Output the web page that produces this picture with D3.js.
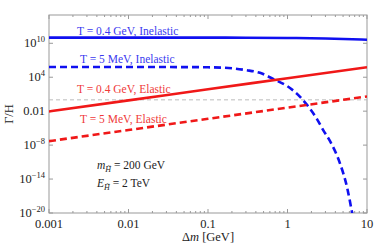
<!DOCTYPE html>
<html>
<head>
<meta charset="utf-8">
<script src="https://cdn.jsdelivr.net/npm/d3@7"></script>
<style>
  body { margin: 0; background: #fff; }
  svg { display: block; font-family: "Liberation Serif", "DejaVu Serif", serif; }
  .frame { fill: none; stroke: #999; stroke-width: 1; }
  .tick line { stroke: #999; }
  .ticklabel { font-size: 12.5px; fill: #222; }
</style>
</head>
<body>
<svg id="chart" width="374" height="247"></svg>
<script>
// values: [Δm in GeV, Γ/H]
const inelastic04 = [[0.001, 1.0e11], [0.01, 1.0e11], [0.1, 1.0e11], [0.3, 9.6e10], [1, 8.8e10], [3, 7e10], [10, 4.2e10]];
const inelastic5 = [[0.001, 6.3e5], [0.01, 6.3e5], [0.05, 6.2e5], [0.1, 5.7e5], [0.2, 3.8e5], [0.3, 1.8e5],
                    [0.45, 6e4], [0.66, 5e3], [1.0, 250], [1.44, 3.5], [1.76, 0.13], [2.35, 4e-4], [2.8, 5e-6],
                    [3.43, 5e-8], [4.57, 6e-12], [5.6, 4e-16], [6.5, 1e-20], [6.7, 1e-21]];
const elastic04 = [[0.001, 8.9e-3], [0.01, 0.8], [0.1, 75], [1, 6.6e3], [10, 6e5]];
const elastic5 = [[0.001, 5e-8], [0.01, 4.7e-6], [0.1, 4.5e-4], [1, 4.2e-2], [10, 4]];
const unity = 1;

const xTicks = [0.001, 0.01, 0.1, 1, 10];
const xTickLabels = ["0.001", "0.01", "0.1", "1", "10"];
const yTicks = [1e-20, 1e-14, 1e-8, 1e-2, 1e4, 1e10];
const yTickLabels = [["10", "\u221220"], ["10", "\u221214"], ["10", "\u22128"], ["0.01", null], ["10", "4"], ["10", "10"]];

const margin = {left: 49, right: 7, top: 15, bottom: 34};
const W = 374, H = 247;
const svg = d3.select("#chart");

const x = d3.scaleLog().domain([0.001, 10]).range([margin.left, W - margin.right]);
const y = d3.scaleLog().domain([1e-20, 1e15]).range([H - margin.bottom, margin.top]);

svg.append("clipPath").attr("id", "clip")
  .append("rect")
    .attr("x", x.range()[0]).attr("y", y.range()[1])
    .attr("width", x.range()[1] - x.range()[0])
    .attr("height", y.range()[0] - y.range()[1]);

// minor ticks on x (2..9 of each decade)
let xMinor = [];
for (let d = 0.001; d < 10; d *= 10)
  for (let k = 2; k <= 9; k++) xMinor.push(d * k);

const ticks = svg.append("g").attr("class", "tick");
const yb = y.range()[0], yt = y.range()[1], xl = x.range()[0], xr = x.range()[1];
xTicks.forEach(v => {
  ticks.append("line").attr("x1", x(v)).attr("x2", x(v)).attr("y1", yb).attr("y2", yb - 4);
  ticks.append("line").attr("x1", x(v)).attr("x2", x(v)).attr("y1", yt).attr("y2", yt + 4);
});
xMinor.forEach(v => {
  ticks.append("line").attr("x1", x(v)).attr("x2", x(v)).attr("y1", yb).attr("y2", yb - 2);
  ticks.append("line").attr("x1", x(v)).attr("x2", x(v)).attr("y1", yt).attr("y2", yt + 2);
});
yTicks.forEach(v => {
  ticks.append("line").attr("x1", xl).attr("x2", xl + 4).attr("y1", y(v)).attr("y2", y(v));
  ticks.append("line").attr("x1", xr).attr("x2", xr - 4).attr("y1", y(v)).attr("y2", y(v));
});

svg.append("rect").attr("class", "frame")
  .attr("x", xl).attr("y", yt).attr("width", xr - xl).attr("height", yb - yt);

// tick labels
svg.selectAll(".xlab").data(xTicks).join("text")
  .attr("class", "ticklabel")
  .attr("x", d => x(d)).attr("y", yb + 15)
  .attr("text-anchor", "middle")
  .text((d, i) => xTickLabels[i]);

svg.selectAll(".ylab").data(yTicks).join("text")
  .attr("class", "ticklabel")
  .attr("x", xl - 4).attr("y", d => y(d) + 4)
  .attr("text-anchor", "end")
  .each(function(d, i) {
    const [base, sup] = yTickLabels[i];
    const t = d3.select(this);
    t.append("tspan").text(base);
    if (sup) t.append("tspan").attr("dy", -5).attr("font-size", 8.5).text(sup);
  });

// curves
const line = d3.line().x(d => x(d[0])).y(d => y(d[1])).curve(d3.curveMonotoneX);
const plot = svg.append("g").attr("clip-path", "url(#clip)");

plot.append("line")
  .attr("x1", xl).attr("x2", xr).attr("y1", y(unity)).attr("y2", y(unity))
  .attr("stroke", "#bbb").attr("stroke-width", 1).attr("stroke-dasharray", "4,3");

const series = [
  {data: inelastic04, color: "#1010f0", dash: null},
  {data: inelastic5, color: "#1010f0", dash: "7,4"},
  {data: elastic04, color: "#f01818", dash: null},
  {data: elastic5, color: "#f01818", dash: "7,4"}
];
series.forEach(s => {
  plot.append("path")
    .attr("d", line(s.data))
    .attr("fill", "none")
    .attr("stroke", s.color)
    .attr("stroke-width", 2.6)
    .attr("stroke-dasharray", s.dash);
});

// annotations
const notes = [
  {text: "T = 0.4 GeV, Inelastic", x: 77, y: 34.5, color: "#3a3af0"},
  {text: "T = 5 MeV, Inelastic", x: 80, y: 62.5, color: "#3a3af0"},
  {text: "T = 0.4 GeV, Elastic", x: 77, y: 92.5, color: "#f03a3a"},
  {text: "T = 5 MeV, Elastic", x: 80, y: 122.5, color: "#f03a3a"}
];
svg.selectAll(".note").data(notes).join("text")
  .attr("x", d => d.x).attr("y", d => d.y)
  .attr("fill", d => d.color)
  .attr("font-size", 11.5)
  .text(d => d.text);

function paramLabel(sym, rest, yy) {
  const t = svg.append("text").attr("x", 97).attr("y", yy).attr("font-size", 11.5).attr("fill", "#222");
  t.append("tspan").attr("font-style", "italic").text(sym);
  t.append("tspan").attr("font-style", "italic").attr("font-size", 8).attr("dy", 3).text("H\u0303");
  t.append("tspan").attr("dy", -3).text(" = " + rest);
}
paramLabel("m", "200 GeV", 169);
paramLabel("E", "2 TeV", 187);

// axis titles
const xt = svg.append("text")
  .attr("x", (xl + xr) / 2).attr("y", 241)
  .attr("text-anchor", "middle").attr("font-size", 12.5).attr("fill", "#222");
xt.append("tspan").text("\u0394");
xt.append("tspan").attr("font-style", "italic").text("m");
xt.append("tspan").text(" [GeV]");

svg.append("text")
  .attr("transform", `translate(13,${(yt + yb) / 2}) rotate(-90)`)
  .attr("text-anchor", "middle").attr("font-size", 12.5).attr("fill", "#222")
  .text("\u0393/H");
</script>
</body>
</html>
